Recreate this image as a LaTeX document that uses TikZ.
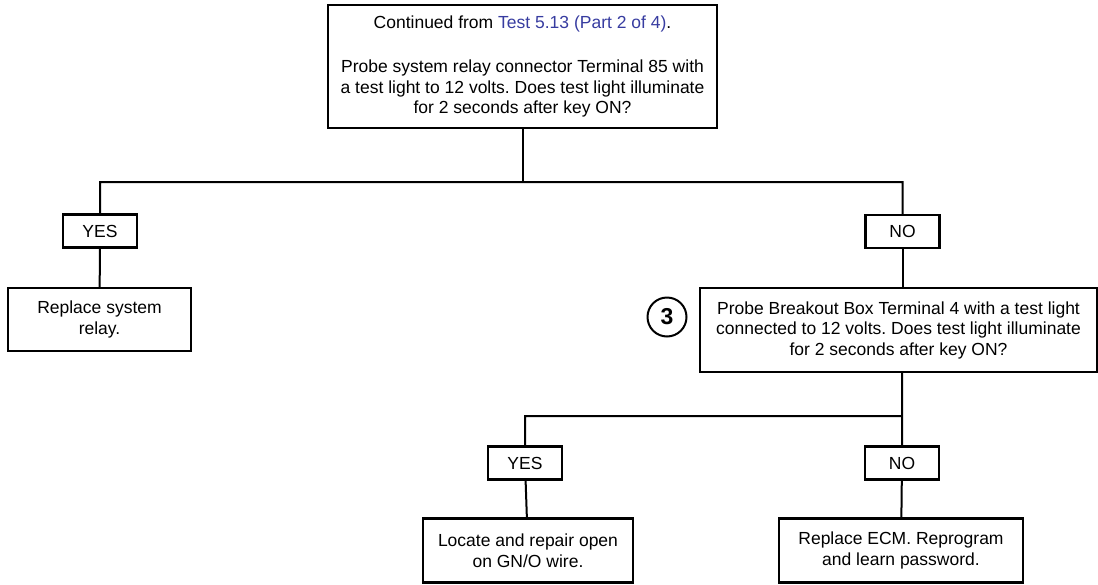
\documentclass[tikz,border=0pt]{standalone}
\usepackage{fontspec}
\setmainfont{Liberation Sans}
\usepackage{tikz}
\usetikzlibrary{positioning}
\usepackage{xcolor}
\definecolor{linkblue}{RGB}{55,60,160}
\frenchspacing

\begin{document}
\begin{tikzpicture}[x=1pt,y=-1pt,line width=2pt]
\tikzstyle{box}=[draw,line width=2.2pt,align=center,inner sep=0pt,font=\fontsize{17.5}{20.5}\selectfont]
\tikzstyle{ans}=[box,minimum width=74pt,minimum height=33pt]
\useasboundingbox (0,0) rectangle (1098,584);
\node[box,minimum width=389pt,minimum height=123pt] (start) at (522.5,66.5) {Continued from \textcolor{linkblue}{Test 5.13 (Part 2 of 4)}.\\[3pt]\\Probe system relay connector Terminal 85 with\\a test light to 12 volts. Does test light illuminate\\for 2 seconds after key ON?};
\node[ans] (yes1) at (100,231) {YES};
\node[ans] (no1) at (902.5,231.5) {NO};
\node[box,minimum width=183pt,minimum height=63pt] (relay) at (99.5,319.5) {Replace system\\relay.};
\node[box,minimum width=397pt,minimum height=84pt] (probe) at (898.5,330) {Probe Breakout Box Terminal 4 with a test light\\connected to 12 volts. Does test light illuminate\\for 2 seconds after key ON?};
\node[circle,draw,line width=2pt,minimum size=39pt,inner sep=0pt,font=\bfseries\fontsize{23}{23}\selectfont] (stepno) at (667,317) {3};
\node[ans] (yes2) at (525,463) {YES};
\node[ans] (no2) at (902,463) {NO};
\node[box,minimum width=210pt,minimum height=64pt] (locate) at (528,550.5) {Locate and repair open\\on GN/O wire.};
\node[box,minimum width=244pt,minimum height=64pt] (ecm) at (901,550.5) {Replace ECM. Reprogram\\and learn password.};
\coordinate (split1) at (523,182);
\coordinate (split2) at (902,416);
\draw (start.south -| split1) -- (split1);
\draw (relay) -- (yes1) |- (split1) -| (no1);
\draw (no1) -- (no1 |- probe.north);
\draw (probe.south -| split2) -- (split2) -- (no2) -- (ecm);
\draw (locate) -- (yes2) |- (split2);
\end{tikzpicture}
\end{document}
